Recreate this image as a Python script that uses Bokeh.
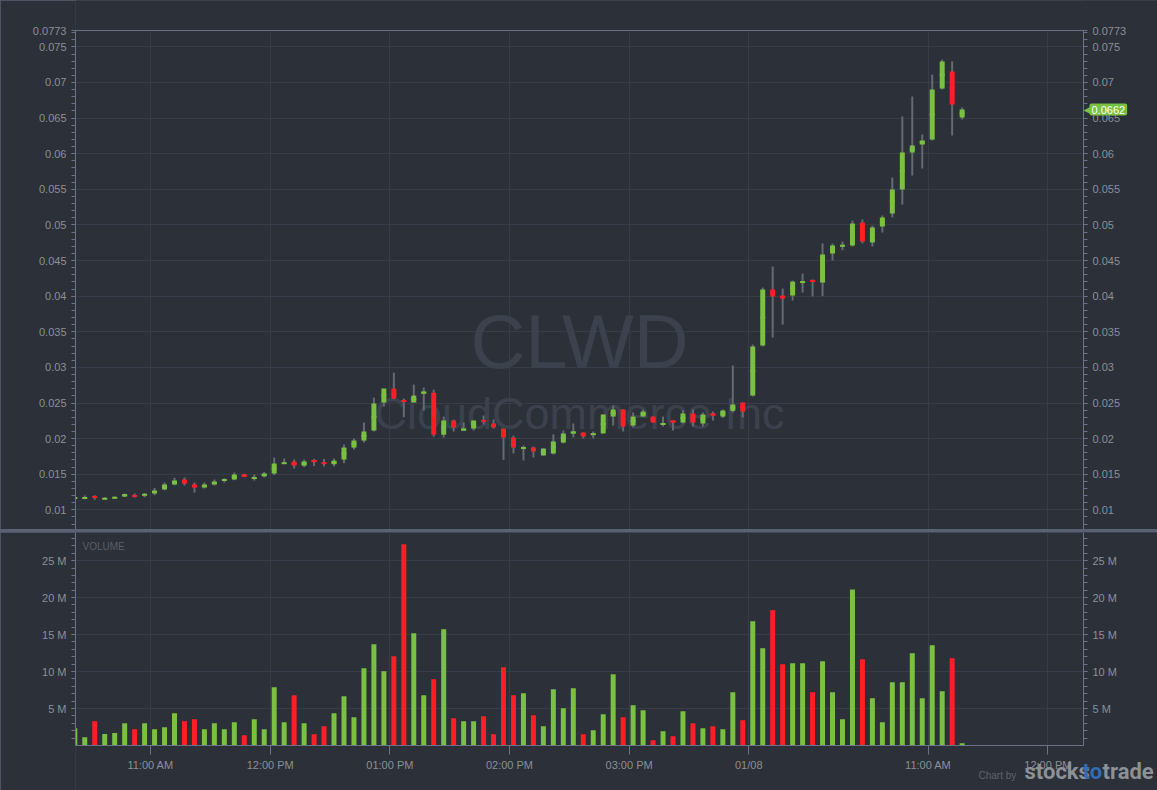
from bokeh.plotting import figure
from bokeh.layouts import column
from bokeh.models import (ColumnDataSource, FixedTicker, LinearAxis, Grid, Range1d,
                          Label, BoxAnnotation, CustomJSTickFormatter)
from bokeh.embed import file_html
from bokeh.resources import INLINE
from bokeh.core.properties import value

# ---------------- data (5-minute candles, CLWD) ----------------
opens = [0.01163, 0.01163, 0.01187, 0.01149, 0.01163, 0.01187, 0.01201, 0.01205, 0.01229, 0.01285,
         0.01355, 0.01425, 0.01355, 0.01313, 0.01355, 0.01416, 0.01425, 0.01495, 0.01439, 0.0147,
         0.0151, 0.0165, 0.01678, 0.0162, 0.0170, 0.0166, 0.0164, 0.01706, 0.01874, 0.01973,
         0.02114, 0.02507, 0.02703, 0.02535, 0.02507, 0.02632, 0.02645, 0.02055, 0.02254, 0.02113,
         0.02141, 0.02254, 0.02212, 0.02141, 0.02016, 0.0186, 0.01875, 0.01763, 0.01791, 0.01945,
         0.02072, 0.02086, 0.02055, 0.02072, 0.0231, 0.02409, 0.02184, 0.0231, 0.0231, 0.02198,
         0.02254, 0.02226, 0.02353, 0.02212, 0.02353, 0.0231, 0.0239, 0.02507, 0.02605, 0.03307,
         0.04093, 0.04009, 0.04009, 0.0419, 0.04224, 0.04191, 0.0460, 0.0470, 0.04713, 0.05035,
         0.04755, 0.04979, 0.05162, 0.05498, 0.06018, 0.0613, 0.062, 0.06916, 0.07154, 0.06509]
highs = [0.0118, 0.0120, 0.01205, 0.0118, 0.01187, 0.01229, 0.01229, 0.01238, 0.01308, 0.01383,
         0.01449, 0.01453, 0.01383, 0.01383, 0.01425, 0.01444, 0.01524, 0.01505, 0.01495, 0.0153,
         0.01735, 0.0172, 0.01707, 0.01707, 0.01715, 0.01715, 0.0172, 0.01916, 0.02001, 0.02226,
         0.02576, 0.02703, 0.02927, 0.02563, 0.02759, 0.02717, 0.02687, 0.0231, 0.02268, 0.02226,
         0.02254, 0.02324, 0.02268, 0.02141, 0.02043, 0.01903, 0.01889, 0.01861, 0.02058, 0.02114,
         0.02212, 0.02086, 0.0210, 0.02339, 0.02465, 0.02409, 0.02367, 0.02409, 0.0231, 0.0231,
         0.02254, 0.02395, 0.02409, 0.02367, 0.02381, 0.02409, 0.03026, 0.02507, 0.03321, 0.04121,
         0.04416, 0.04107, 0.04219, 0.04317, 0.04233, 0.0474, 0.0474, 0.04769, 0.05063, 0.05077,
         0.04993, 0.05133, 0.05667, 0.06523, 0.06804, 0.0627, 0.07112, 0.07323, 0.07295, 0.0665]
lows = [0.0116, 0.01149, 0.0114, 0.01149, 0.01154, 0.0118, 0.01173, 0.01177, 0.01205, 0.01276,
        0.01346, 0.01341, 0.01243, 0.01299, 0.01341, 0.01383, 0.01416, 0.01458, 0.01411, 0.01455,
        0.01487, 0.0165, 0.0158, 0.016, 0.01615, 0.0161, 0.0161, 0.01655, 0.01846, 0.01945,
        0.021, 0.0245, 0.0255, 0.0230, 0.02507, 0.02394, 0.02027, 0.02015, 0.0210, 0.02114,
        0.02114, 0.02198, 0.02141, 0.01702, 0.01791, 0.01693, 0.01735, 0.01763, 0.01777, 0.01932,
        0.02016, 0.02002, 0.02002, 0.02072, 0.02184, 0.0210, 0.02156, 0.0231, 0.02226, 0.0217,
        0.02114, 0.02212, 0.0217, 0.0217, 0.02254, 0.0229, 0.02367, 0.02297, 0.0259, 0.03293,
        0.03419, 0.036, 0.03939, 0.04051, 0.03995, 0.0400, 0.0450, 0.04643, 0.04699, 0.04741,
        0.04699, 0.04895, 0.05106, 0.05288, 0.05695, 0.05793, 0.06186, 0.06902, 0.06256, 0.06481]
closes = [0.01168, 0.0117, 0.01177, 0.01159, 0.01177, 0.0122, 0.01191, 0.0122, 0.01271, 0.01355,
          0.01411, 0.01369, 0.01313, 0.01355, 0.01397, 0.01425, 0.01495, 0.01467, 0.01453, 0.0151,
          0.0165, 0.0166, 0.01622, 0.0168, 0.0167, 0.0165, 0.0169, 0.01874, 0.01973, 0.0210,
          0.02493, 0.02703, 0.02563, 0.0252, 0.02604, 0.0266, 0.02055, 0.02254, 0.02156, 0.02141,
          0.02254, 0.0224, 0.02156, 0.02016, 0.01875, 0.01875, 0.01819, 0.01861, 0.0196, 0.02072,
          0.021, 0.0203, 0.0207, 0.02339, 0.02409, 0.0217, 0.0231, 0.0238, 0.02226, 0.02212,
          0.02226, 0.02353, 0.02226, 0.02339, 0.02325, 0.02395, 0.02479, 0.02381, 0.03293, 0.04093,
          0.03995, 0.03967, 0.04205, 0.04205, 0.04205, 0.04584, 0.0471, 0.04713, 0.05021, 0.04769,
          0.04965, 0.05105, 0.05498, 0.06018, 0.06116, 0.06186, 0.06902, 0.07295, 0.06691, 0.0662]
volumes_m = [2.34, 1.12, 3.28, 1.57, 1.70, 3.01, 2.20, 3.01, 2.20, 2.47,
             4.37, 3.28, 3.55, 2.20, 3.01, 2.20, 3.15, 1.39, 3.55, 2.20,
             7.88, 3.15, 6.80, 3.01, 1.52, 2.61, 4.37, 6.66, 3.82, 10.45,
             13.7, 10.04, 12.07, 27.2, 15.18, 6.80, 8.96, 15.72, 3.69, 3.28,
             3.28, 3.96, 1.52, 10.58, 6.80, 7.07, 4.09, 2.61, 7.61, 5.04,
             7.74, 1.52, 2.07, 4.23, 9.63, 3.82, 5.45, 4.77, 0.72, 1.93,
             1.25, 4.64, 3.01, 2.34, 2.61, 2.20, 7.20, 3.42, 16.8, 13.15,
             18.3, 10.99, 11.12, 11.12, 7.20, 11.39, 7.20, 3.55, 21.1, 11.66,
             6.39, 3.15, 8.55, 8.55, 12.47, 6.39, 13.55, 7.34, 11.80, 0.3]

day1_first_bar = "10:20"
day1_bar_count = 68
day2_first_bar = "09:30"
bar_minutes = 5
tick_days = [1, 1, 1, 1, 1, 2, 2, 2]
tick_times = ["11:00", "12:00", "13:00", "14:00", "15:00", "09:30", "11:00", "12:00"]
tick_labels = ["11:00 AM", "12:00 PM", "01:00 PM", "02:00 PM", "03:00 PM", "01/08", "11:00 AM", "12:00 PM"]
price_ticks = [0.01, 0.015, 0.02, 0.025, 0.03, 0.035, 0.04, 0.045, 0.05, 0.055, 0.06, 0.065, 0.07, 0.075, 0.0773]
volume_ticks = [5, 10, 15, 20, 25]
symbol = "CLWD"
company = "CloudCommerce Inc"
last_price = closes[-1]
last_price_label = "0.0662"
brand = ["stocks", "to", "trade"]

# ---------------- style ----------------
BG = "#2b3039"
GRID = "#363c49"
AXIS = "#6b7386"
LABEL = "#8b8f97"
GREEN = "#7ac142"
RED = "#ff1e26"
WICK = "#666a71"
SEP = "#5a6172"
WM = "#3b424e"
FONT = "Liberation Sans"

# layout geometry (pixels)
PX_PER_BAR = 9.97
LEFT_PX, RIGHT_PX, TOP_PX = 75, 74, 30
W = 1157
H1 = 529


def mins(t):
    h, m = t.split(":")
    return int(h) * 60 + int(m)


def bar_pos(day, t):
    if day == 1:
        return (mins(t) - mins(day1_first_bar)) / bar_minutes
    return day1_bar_count + (mins(t) - mins(day2_first_bar)) / bar_minutes


tick_pos = [bar_pos(d, t) - 0.4 for d, t in zip(tick_days, tick_times)]

n = len(opens)
idx = list(range(n))
colors = [GREEN if c >= o else RED for o, c in zip(opens, closes)]
src = ColumnDataSource(dict(
    x=idx, o=opens, h=highs, l=lows, c=closes,
    top=[max(o, c) for o, c in zip(opens, closes)],
    bot=[min(o, c) for o, c in zip(opens, closes)],
    mid=[(o + c) / 2 for o, c in zip(opens, closes)],
    color=colors, vol=volumes_m))

xs = 0.07
xe = xs + (W - LEFT_PX - RIGHT_PX) / PX_PER_BAR       # right edge of plot area
xfull = xe + RIGHT_PX / PX_PER_BAR                      # right edge of canvas
xr = Range1d(xs, xfull)

pmin, pmax = 0.00724, 0.0773
ptop = pmax + TOP_PX * (pmax - pmin) / (H1 - TOP_PX)
vmax = 28.8
vmin = -45 / 7.4

common = dict(width=W, x_range=xr, output_backend="svg", toolbar_location=None,
              x_axis_location=None, y_axis_location=None,
              min_border_left=LEFT_PX, min_border_right=0, min_border_bottom=0, min_border_top=0,
              background_fill_color=BG, border_fill_color=BG, outline_line_color=None)
p1 = figure(height=H1, y_range=Range1d(pmin, ptop), **common)
p2 = figure(height=258, y_range=Range1d(vmin, vmax), **common)
for p in (p1, p2):
    p.center = [r for r in p.center if not isinstance(r, Grid)]


def style_axis(ax, ticker, fmt, tick_out=4):
    ax.ticker = ticker
    ax.formatter = fmt
    ax.axis_line_color = AXIS
    ax.major_tick_line_color = AXIS
    ax.minor_tick_line_color = AXIS
    ax.major_tick_out = tick_out
    ax.major_tick_in = 0
    ax.minor_tick_out = 4
    ax.minor_tick_in = 0
    ax.major_label_text_color = LABEL
    ax.major_label_text_font = FONT
    ax.major_label_text_font_size = "11px"
    ax.major_label_standoff = 5
    return ax


def cover(p, left, right, bottom, top):
    p.add_layout(BoxAnnotation(left=left, right=right, bottom=bottom, top=top, fill_color=BG,
                               fill_alpha=1, line_alpha=0, level="underlay"))


price_minor = [round(0.008 + 0.001 * i, 4) for i in range(70)]
price_fmt = CustomJSTickFormatter(code="return tick.toFixed(4).replace(/0+$/, '');")
vol_minor = list(range(1, 29))
vol_fmt = CustomJSTickFormatter(code="return Math.round(tick) + ' M';")
x_fmt = CustomJSTickFormatter(args=dict(pos=tick_pos, labels=tick_labels), code="""
for (let i = 0; i < pos.length; i++) { if (Math.abs(pos[i] - tick) < 1e-6) return labels[i]; }
return '';
""")

# ---- price panel
p1.add_layout(Grid(dimension=1, ticker=FixedTicker(ticks=price_ticks), grid_line_color=GRID))
p1.add_layout(Grid(dimension=0, ticker=FixedTicker(ticks=tick_pos), grid_line_color=GRID))
cover(p1, xe, xfull, pmin, ptop)
cover(p1, xs, xfull, pmax, ptop)
p1.add_layout(style_axis(LinearAxis(bounds=(pmin, pmax)),
                         FixedTicker(ticks=price_ticks, minor_ticks=price_minor), price_fmt), "left")
p1.add_layout(style_axis(LinearAxis(fixed_location=xe, bounds=(pmin, pmax)),
                         FixedTicker(ticks=price_ticks, minor_ticks=price_minor), price_fmt), "right")
top_line = LinearAxis(fixed_location=pmax, bounds=(xs, xe), ticker=FixedTicker(ticks=[], minor_ticks=[]),
                      axis_line_color=AXIS, major_tick_out=0, minor_tick_out=0,
                      major_label_text_font_size="0px")
p1.add_layout(top_line, "above")

xc = (xs + xe) / 2
p1.text(x=[xc], y=[0.03364], text=[symbol], text_font=value(FONT), text_font_size="76px",
        text_align="center", text_baseline="middle", text_color=WM)
p1.text(x=[xc], y=[0.02346], text=[company], text_font=value(FONT), text_font_size="45px",
        text_align="center", text_baseline="middle", text_color=WM)

p1.segment(x0="x", y0="l", x1="x", y1="h", line_color=WICK, line_width=2, source=src)
p1.vbar(x="x", width=0.5, top="top", bottom="bot", fill_color="color", line_color=None, source=src)
p1.rect(x="x", y="mid", width=0.5, height=2, height_units="screen", fill_color="color",
        line_color=None, source=src)

# last price tag
p1.add_layout(Label(x=xe, y=last_price, text="\u25c0", text_color=GREEN, text_font_size="10px",
                    text_font="DejaVu Sans", text_align="left", text_baseline="middle", x_offset=0))
p1.add_layout(Label(x=xe, y=last_price, text=last_price_label, text_color="#ffffff",
                    text_font=FONT, text_font_size="11px", text_align="left",
                    text_baseline="middle", x_offset=6, background_fill_color=GREEN,
                    padding=2, border_radius=2))

# ---- volume panel
p2.add_layout(Grid(dimension=1, ticker=FixedTicker(ticks=volume_ticks), grid_line_color=GRID))
p2.add_layout(Grid(dimension=0, ticker=FixedTicker(ticks=tick_pos), grid_line_color=GRID))
cover(p2, xe, xfull, vmin, vmax)
cover(p2, xs, xfull, vmin, 0)
p2.add_layout(style_axis(LinearAxis(bounds=(0, vmax)),
                         FixedTicker(ticks=volume_ticks, minor_ticks=vol_minor), vol_fmt), "left")
p2.add_layout(style_axis(LinearAxis(fixed_location=xe, bounds=(0, vmax)),
                         FixedTicker(ticks=volume_ticks, minor_ticks=vol_minor), vol_fmt), "right")
xax = style_axis(LinearAxis(fixed_location=0, bounds=(xs, xe)),
                 FixedTicker(ticks=tick_pos, minor_ticks=[]), x_fmt, tick_out=9)
xax.major_label_standoff = 4
p2.add_layout(xax, "below")

p2.vbar(x="x", width=0.5, top="vol", bottom=0, fill_color="color", line_color=None, source=src)
p2.add_layout(Label(x=7, y=244, x_units="screen", y_units="screen", text="VOLUME",
                    text_color="#5a5f69", text_font=FONT, text_font_size="10px",
                    text_baseline="middle"))

# logo
p2.add_layout(Label(x=903, y=15, x_units="screen", y_units="screen", text="Chart by",
                    text_color="#5f646c", text_font=FONT, text_font_size="10px",
                    text_baseline="middle"))
for word, xo, col in zip(brand, [949, 1007, 1027], ["#8d9096", "#2f6db4", "#8d9096"]):
    p2.add_layout(Label(x=xo, y=19, x_units="screen", y_units="screen", text=word,
                        text_color=col, text_font="Roboto", text_font_size="22px",
                        text_font_style="bold", text_baseline="middle"))

layout = column(p1, p2, spacing=3, styles={"background-color": SEP})
open("out.html", "w").write(file_html(layout, INLINE))
